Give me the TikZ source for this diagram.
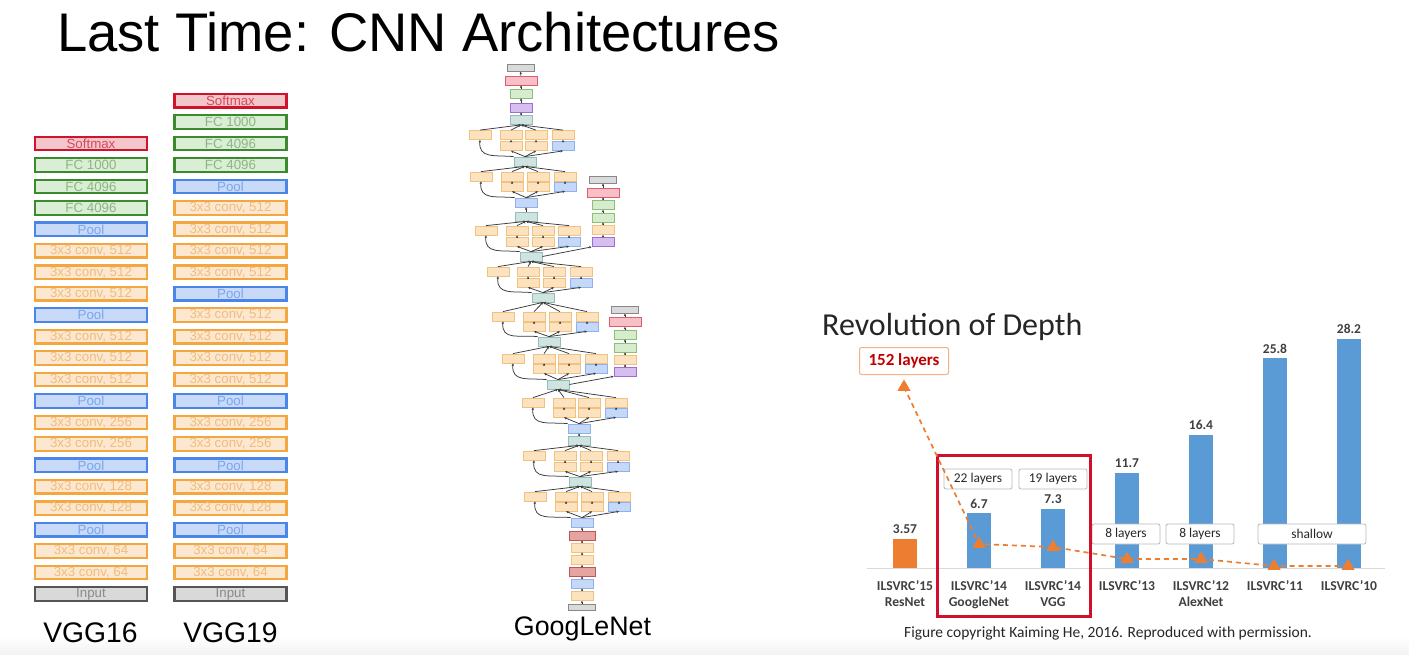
\documentclass[tikz,border=0pt]{standalone}
\usepackage{fontspec}
\setmainfont{Liberation Sans}
\newfontfamily\chartfont{Carlito}
\usetikzlibrary{shapes.geometric,arrows.meta}

% VGG layer colours: border (B), fill (F), text (T)
\definecolor{convB}{HTML}{F4A640}\definecolor{convF}{HTML}{FCE8D0}\definecolor{convT}{HTML}{F2BC7C}
\definecolor{poolB}{HTML}{4A86E8}\definecolor{poolF}{HTML}{C9DAF8}\definecolor{poolT}{HTML}{7AA6EE}
\definecolor{fcB}{HTML}{3C8A2E}\definecolor{fcF}{HTML}{D9EED4}\definecolor{fcT}{HTML}{8DB583}
\definecolor{smB}{HTML}{D0122B}\definecolor{smF}{HTML}{F3C6CC}\definecolor{smT}{HTML}{D9475A}
\definecolor{inB}{HTML}{555555}\definecolor{inF}{HTML}{D9D9D9}\definecolor{inT}{HTML}{8A8A8A}
% GoogLeNet block colours
\definecolor{gconvF}{HTML}{FCE2BE}\definecolor{gconvB}{HTML}{F0C282}
\definecolor{gcatF}{HTML}{CFE3E0}\definecolor{gcatB}{HTML}{92BDB8}
\definecolor{gpoolF}{HTML}{C6D8F7}\definecolor{gpoolB}{HTML}{8FB2EC}
\definecolor{gfcF}{HTML}{D5ECCD}\definecolor{gfcB}{HTML}{8CC076}
\definecolor{gsoftF}{HTML}{F6C0C6}\definecolor{gsoftB}{HTML}{DE5C70}
\definecolor{gavgF}{HTML}{D6BEF0}\definecolor{gavgB}{HTML}{A06CD6}
\definecolor{ginF}{HTML}{DADADA}\definecolor{ginB}{HTML}{888888}
\definecolor{glrnF}{HTML}{E6A4A1}\definecolor{glrnB}{HTML}{BF5555}
% chart colours
\definecolor{barBlue}{HTML}{5B9BD5}
\definecolor{barOrange}{HTML}{ED7D31}
\definecolor{chartText}{HTML}{404040}
\definecolor{hlRed}{HTML}{D0102B}
\definecolor{deepRed}{HTML}{C00000}
\definecolor{peach}{HTML}{F4B183}

% one inception module: name, four branch x positions, top row y, bottom row y, input node, output node
\newcommand{\gincep}[9]{%
  \node[gconv] (#1a) at (#2,#6) {};
  \node[gconv] (#1b) at (#3,#6) {};
  \node[gconv] (#1c) at (#4,#6) {};
  \node[gconv] (#1d) at (#5,#6) {};
  \node[gconv] (#1e) at (#3,#7) {};
  \node[gconv] (#1f) at (#4,#7) {};
  \node[gpool] (#1g) at (#5,#7) {};
  \draw[gw] (#8.north west) to[out=175,in=-95,looseness=1.3] (#1a.south);
  \draw[gw] (#8.north) -- (#1e.south);
  \draw[gw] (#8.north) -- (#1f.south);
  \draw[gw] (#8.north) -- (#1g.south);
  \draw[gw] (#1e) -- (#1b);
  \draw[gw] (#1f) -- (#1c);
  \draw[gw] (#1g) -- (#1d);
  \draw[gw] (#1a.north) -- (#9.south);
  \draw[gw] (#1b.north) -- (#9.south);
  \draw[gw] (#1c.north) -- (#9.south);
  \draw[gw] (#1d.north) -- (#9.south);
}

\begin{document}
\begin{tikzpicture}[x=1pt,y=-1pt,
  vggbase/.style={draw, line width=2.2pt, minimum width=112pt, minimum height=13.6pt,
    inner sep=0pt, font=\fontsize{13.3}{13.3}\selectfont},
  vbox/.style={vggbase, draw=#1B, fill=#1F, text=#1T},
  gbase/.style={draw, line width=0.8pt, minimum width=22pt, minimum height=9pt, inner sep=0pt},
  gconv/.style={gbase, draw=gconvB, fill=gconvF},
  gcat/.style={gbase, draw=gcatB, fill=gcatF},
  gpool/.style={gbase, draw=gpoolB, fill=gpoolF},
  gfc/.style={gbase, draw=gfcB, fill=gfcF},
  gsoft/.style={gbase, draw=gsoftB, fill=gsoftF, minimum width=32pt},
  gavg/.style={gbase, draw=gavgB, fill=gavgF},
  gin/.style={gbase, draw=ginB, fill=ginF, minimum width=27pt, minimum height=6.5pt},
  glrn/.style={gbase, draw=glrnB, fill=glrnF, minimum width=26pt},
  gw/.style={draw=gray!45!black, line width=0.75pt, -{Stealth[length=2.6pt,width=2.4pt]}},
  bar/.style={minimum width=24pt, inner sep=0pt, anchor=south, fill=barBlue},
  val/.style={anchor=base, inner sep=0pt, text=chartText, font=\chartfont\bfseries\fontsize{13.5}{13.5}\selectfont},
  cat/.style={anchor=north, align=center, inner sep=0pt, text=chartText,
    font=\chartfont\bfseries\fontsize{13.6}{16}\selectfont},
  lay/.style={draw=gray!55, fill=white, line width=0.8pt, rounded corners=2pt,
    minimum width=68pt, minimum height=20pt, inner sep=0pt, text=black!85,
    font=\chartfont\fontsize{13.4}{13.4}\selectfont},
  tri/.style={regular polygon, regular polygon sides=3, fill=barOrange, minimum size=15pt, inner sep=0pt},
  series/.style={draw=barOrange, line width=1.7pt, dash pattern=on 5pt off 4pt},
  bigname/.style={anchor=base, inner sep=0pt, text=black}
]
\useasboundingbox (0,0) rectangle (1409,655);
\fill[white] (0,0) rectangle (1409,655);
\shade[top color=white, bottom color=gray!10] (0,636) rectangle (1409,655);

% ---------- title ----------
\node[anchor=base west, inner sep=0pt, font=\fontsize{54.4}{54.4}\selectfont] (title) at (57,52)
  {Last Time: CNN Architectures};

% ---------- VGG16 ----------
\foreach \st/\tx [count=\k from 0] in {in/Input, {conv/3x3 conv, 64}, {conv/3x3 conv, 64}, pool/Pool,
  {conv/3x3 conv, 128}, {conv/3x3 conv, 128}, pool/Pool, {conv/3x3 conv, 256}, {conv/3x3 conv, 256}, pool/Pool,
  {conv/3x3 conv, 512}, {conv/3x3 conv, 512}, {conv/3x3 conv, 512}, pool/Pool,
  {conv/3x3 conv, 512}, {conv/3x3 conv, 512}, {conv/3x3 conv, 512}, pool/Pool,
  fc/FC 4096, fc/FC 4096, fc/FC 1000, sm/Softmax}
  \node[vbox=\st] (v16-\k) at (91,{594-21.45*\k}) {\tx};

% ---------- VGG19 ----------
\foreach \st/\tx [count=\k from 0] in {in/Input, {conv/3x3 conv, 64}, {conv/3x3 conv, 64}, pool/Pool,
  {conv/3x3 conv, 128}, {conv/3x3 conv, 128}, pool/Pool, {conv/3x3 conv, 256}, {conv/3x3 conv, 256}, pool/Pool,
  {conv/3x3 conv, 512}, {conv/3x3 conv, 512}, {conv/3x3 conv, 512}, {conv/3x3 conv, 512}, pool/Pool,
  {conv/3x3 conv, 512}, {conv/3x3 conv, 512}, {conv/3x3 conv, 512}, {conv/3x3 conv, 512}, pool/Pool,
  fc/FC 4096, fc/FC 4096, fc/FC 1000, sm/Softmax}
  \node[vbox=\st] (v19-\k) at (230.5,{594-21.45*\k}) {\tx};

\node[bigname, font=\fontsize{28.3}{28.3}\selectfont] (n16) at (90.5,642) {VGG16};
\node[bigname, font=\fontsize{28.3}{28.3}\selectfont] (n19) at (230.5,642) {VGG19};

% ---------- GoogLeNet ----------
% stem (bottom) and head (top) of the main column
\node[gin]   (gIn) at (582,607.5) {};
\node[gconv] (C0)  at (582,596) {};
\node[gpool] (P0)  at (582,583.5) {};
\node[glrn]  (L0)  at (582,571.5) {};
\node[gconv] (C1)  at (582,560) {};
\node[gconv] (C2)  at (582,547.5) {};
\node[glrn]  (L1)  at (582,535.5) {};
\node[gpool] (P3)  at (582,522.5) {};
\node[gcat]  (T9)  at (580,481.5) {};
\node[gcat]  (T8)  at (579,440.5) {};
\node[gpool] (P2)  at (579,428.5) {};
\node[gcat]  (T7)  at (558,384.5) {};
\node[gcat]  (T6)  at (549,341.5) {};
\node[gcat]  (T5)  at (543,297.5) {};
\node[gcat]  (T4)  at (531,256.5) {};
\node[gcat]  (T3)  at (526,216.5) {};
\node[gpool] (P1)  at (526,202.5) {};
\node[gcat]  (T2)  at (525,161.5) {};
\node[gcat]  (T1)  at (521,120) {};
\node[gavg]  (gAvg) at (521,107.5) {};
\node[gfc]   (gFC)  at (521,93.5) {};
\node[gsoft] (gSm)  at (521,80.5) {};
\node[gin]   (gOut) at (520.5,68) {};

\draw[gw] (gIn) -- (C0);
\draw[gw] (C0) -- (P0);
\draw[gw] (P0) -- (L0);
\draw[gw] (L0) -- (C1);
\draw[gw] (C1) -- (C2);
\draw[gw] (C2) -- (L1);
\draw[gw] (L1) -- (P3);
\draw[gw] (T8) -- (P2);
\draw[gw] (T3) -- (P1);
\draw[gw] (T1) -- (gAvg);
\draw[gw] (gAvg) -- (gFC);
\draw[gw] (gFC) -- (gSm);
\draw[gw] (gSm) -- (gOut);

% inception modules, bottom to top
\gincep{I9}{535}{566}{592}{619}{496.5}{506.5}{P3}{T9}
\gincep{I8}{534}{565}{591}{618}{455.5}{466.5}{T9}{T8}
\gincep{I7}{533}{564}{589}{616}{402.5}{412.5}{P2}{T7}
\gincep{I6}{513}{544}{569}{596}{358.5}{368.5}{T7}{T6}
\gincep{I5}{503}{534}{560}{587}{316.5}{326.5}{T6}{T5}
\gincep{I4}{498}{528}{554}{581}{271.5}{282.5}{T5}{T4}
\gincep{I3}{486}{517}{543}{569}{230.5}{241.5}{T4}{T3}
\gincep{I2}{481}{512}{538}{565}{176.5}{186.5}{P1}{T2}
\gincep{I1}{480}{511}{536}{563}{135}{146}{T2}{T1}

% auxiliary classifier 1
\node[gavg]  (A1p) at (603,242) {};
\node[gconv] (A1c) at (603,230) {};
\node[gfc]   (A1f) at (603,217.5) {};
\node[gfc]   (A1g) at (603,205) {};
\node[gsoft] (A1s) at (603,192.5) {};
\node[gin]   (A1o) at (603,180) {};
\draw[gw] (T4.east) -- (A1p.south west);
\draw[gw] (A1p) -- (A1c);
\draw[gw] (A1c) -- (A1f);
\draw[gw] (A1f) -- (A1g);
\draw[gw] (A1g) -- (A1s);
\draw[gw] (A1s) -- (A1o);

% auxiliary classifier 2
\node[gavg]  (A2p) at (625,371.5) {};
\node[gconv] (A2c) at (625,359.5) {};
\node[gfc]   (A2f) at (625,347.5) {};
\node[gfc]   (A2g) at (625,334.5) {};
\node[gsoft] (A2s) at (625,322) {};
\node[gin]   (A2o) at (625,310) {};
\draw[gw] (T7.east) -- (A2p.south west);
\draw[gw] (A2p) -- (A2c);
\draw[gw] (A2c) -- (A2f);
\draw[gw] (A2f) -- (A2g);
\draw[gw] (A2g) -- (A2s);
\draw[gw] (A2s) -- (A2o);

\node[bigname, font=\fontsize{26.8}{26.8}\selectfont] (nG) at (582.5,635) {GoogLeNet};

% ---------- Revolution of Depth chart ----------
\node[anchor=base west, inner sep=0pt, text=black!85, font=\chartfont\fontsize{32}{32}\selectfont]
  (ctitle) at (822,335) {Revolution of Depth};

\coordinate (axL) at (867,568);
\coordinate (axR) at (1385,568);
\draw[gray!30, line width=0.8pt] (axL) -- (axR);

\node[bar, fill=barOrange, minimum height=29.0pt] (b15) at (905,568) {};
\node[bar, minimum height=54.4pt]  (b14g) at (979,568) {};
\node[bar, minimum height=59.3pt]  (b14v) at (1053,568) {};
\node[bar, minimum height=95.0pt]  (b13) at (1127,568) {};
\node[bar, minimum height=133.2pt] (b12) at (1201,568) {};
\node[bar, minimum height=209.5pt] (b11) at (1275,568) {};
\node[bar, minimum height=229.0pt] (b10) at (1349,568) {};

\node[val] at ([yshift=5pt]b15.north)  {3.57};
\node[val] at ([yshift=5pt]b14g.north) {6.7};
\node[val] at ([yshift=5pt]b14v.north) {7.3};
\node[val] at ([yshift=5pt]b13.north)  {11.7};
\node[val] at ([yshift=5pt]b12.north)  {16.4};
\node[val] at ([yshift=5pt]b11.north)  {25.8};
\node[val] at ([yshift=5pt]b10.north)  {28.2};

\node[cat] at (905,580)  {ILSVRC’15\\ResNet};
\node[cat] at (979,580)  {ILSVRC’14\\GoogleNet};
\node[cat] at (1053,580) {ILSVRC’14\\VGG};
\node[cat] at (1127,580) {ILSVRC’13};
\node[cat] at (1201,580) {ILSVRC’12\\AlexNet};
\node[cat] at (1275,580) {ILSVRC’11};
\node[cat] at (1349,580) {ILSVRC’10};

\node[lay] (l14g) at (978,479)  {22 layers};
\node[lay] (l14v) at (1053,479) {19 layers};
\node[lay] (l13)  at (1126,534) {8 layers};
\node[lay] (l12)  at (1200,534) {8 layers};
\node[lay, minimum width=108pt] (l11) at (1312,534) {shallow};

\node[draw=peach, fill=white, line width=1pt, rounded corners=2pt, minimum width=89pt,
  minimum height=27pt, inner sep=0pt, text=deepRed,
  font=\chartfont\bfseries\fontsize{17}{17}\selectfont] (l15) at (904,361) {152 layers};

\node[draw=hlRed, line width=2.8pt, minimum width=153pt, minimum height=161pt, inner sep=0pt]
  (hl) at (1014,536) {};

% depth series
\node[tri] (m15)  at (904,387) {};
\node[tri] (m14g) at (979,544) {};
\node[tri] (m14v) at (1053,547) {};
\node[tri] (m13)  at (1127,559) {};
\node[tri] (m12)  at (1201,559) {};
\node[tri] (m11)  at (1274,566) {};
\node[tri] (m10)  at (1348,566) {};
\draw[series] (m15.center) -- (m14g.center) -- (m14v.center) -- (m13.center)
  -- (m12.center) -- (m11.center) -- (m10.center);

\node[anchor=base, inner sep=0pt, text=black!85, font=\chartfont\fontsize{15.5}{15.5}\selectfont]
  (cap) at (1108,637) {Figure copyright Kaiming He, 2016. Reproduced with permission.};
\end{tikzpicture}
\end{document}
